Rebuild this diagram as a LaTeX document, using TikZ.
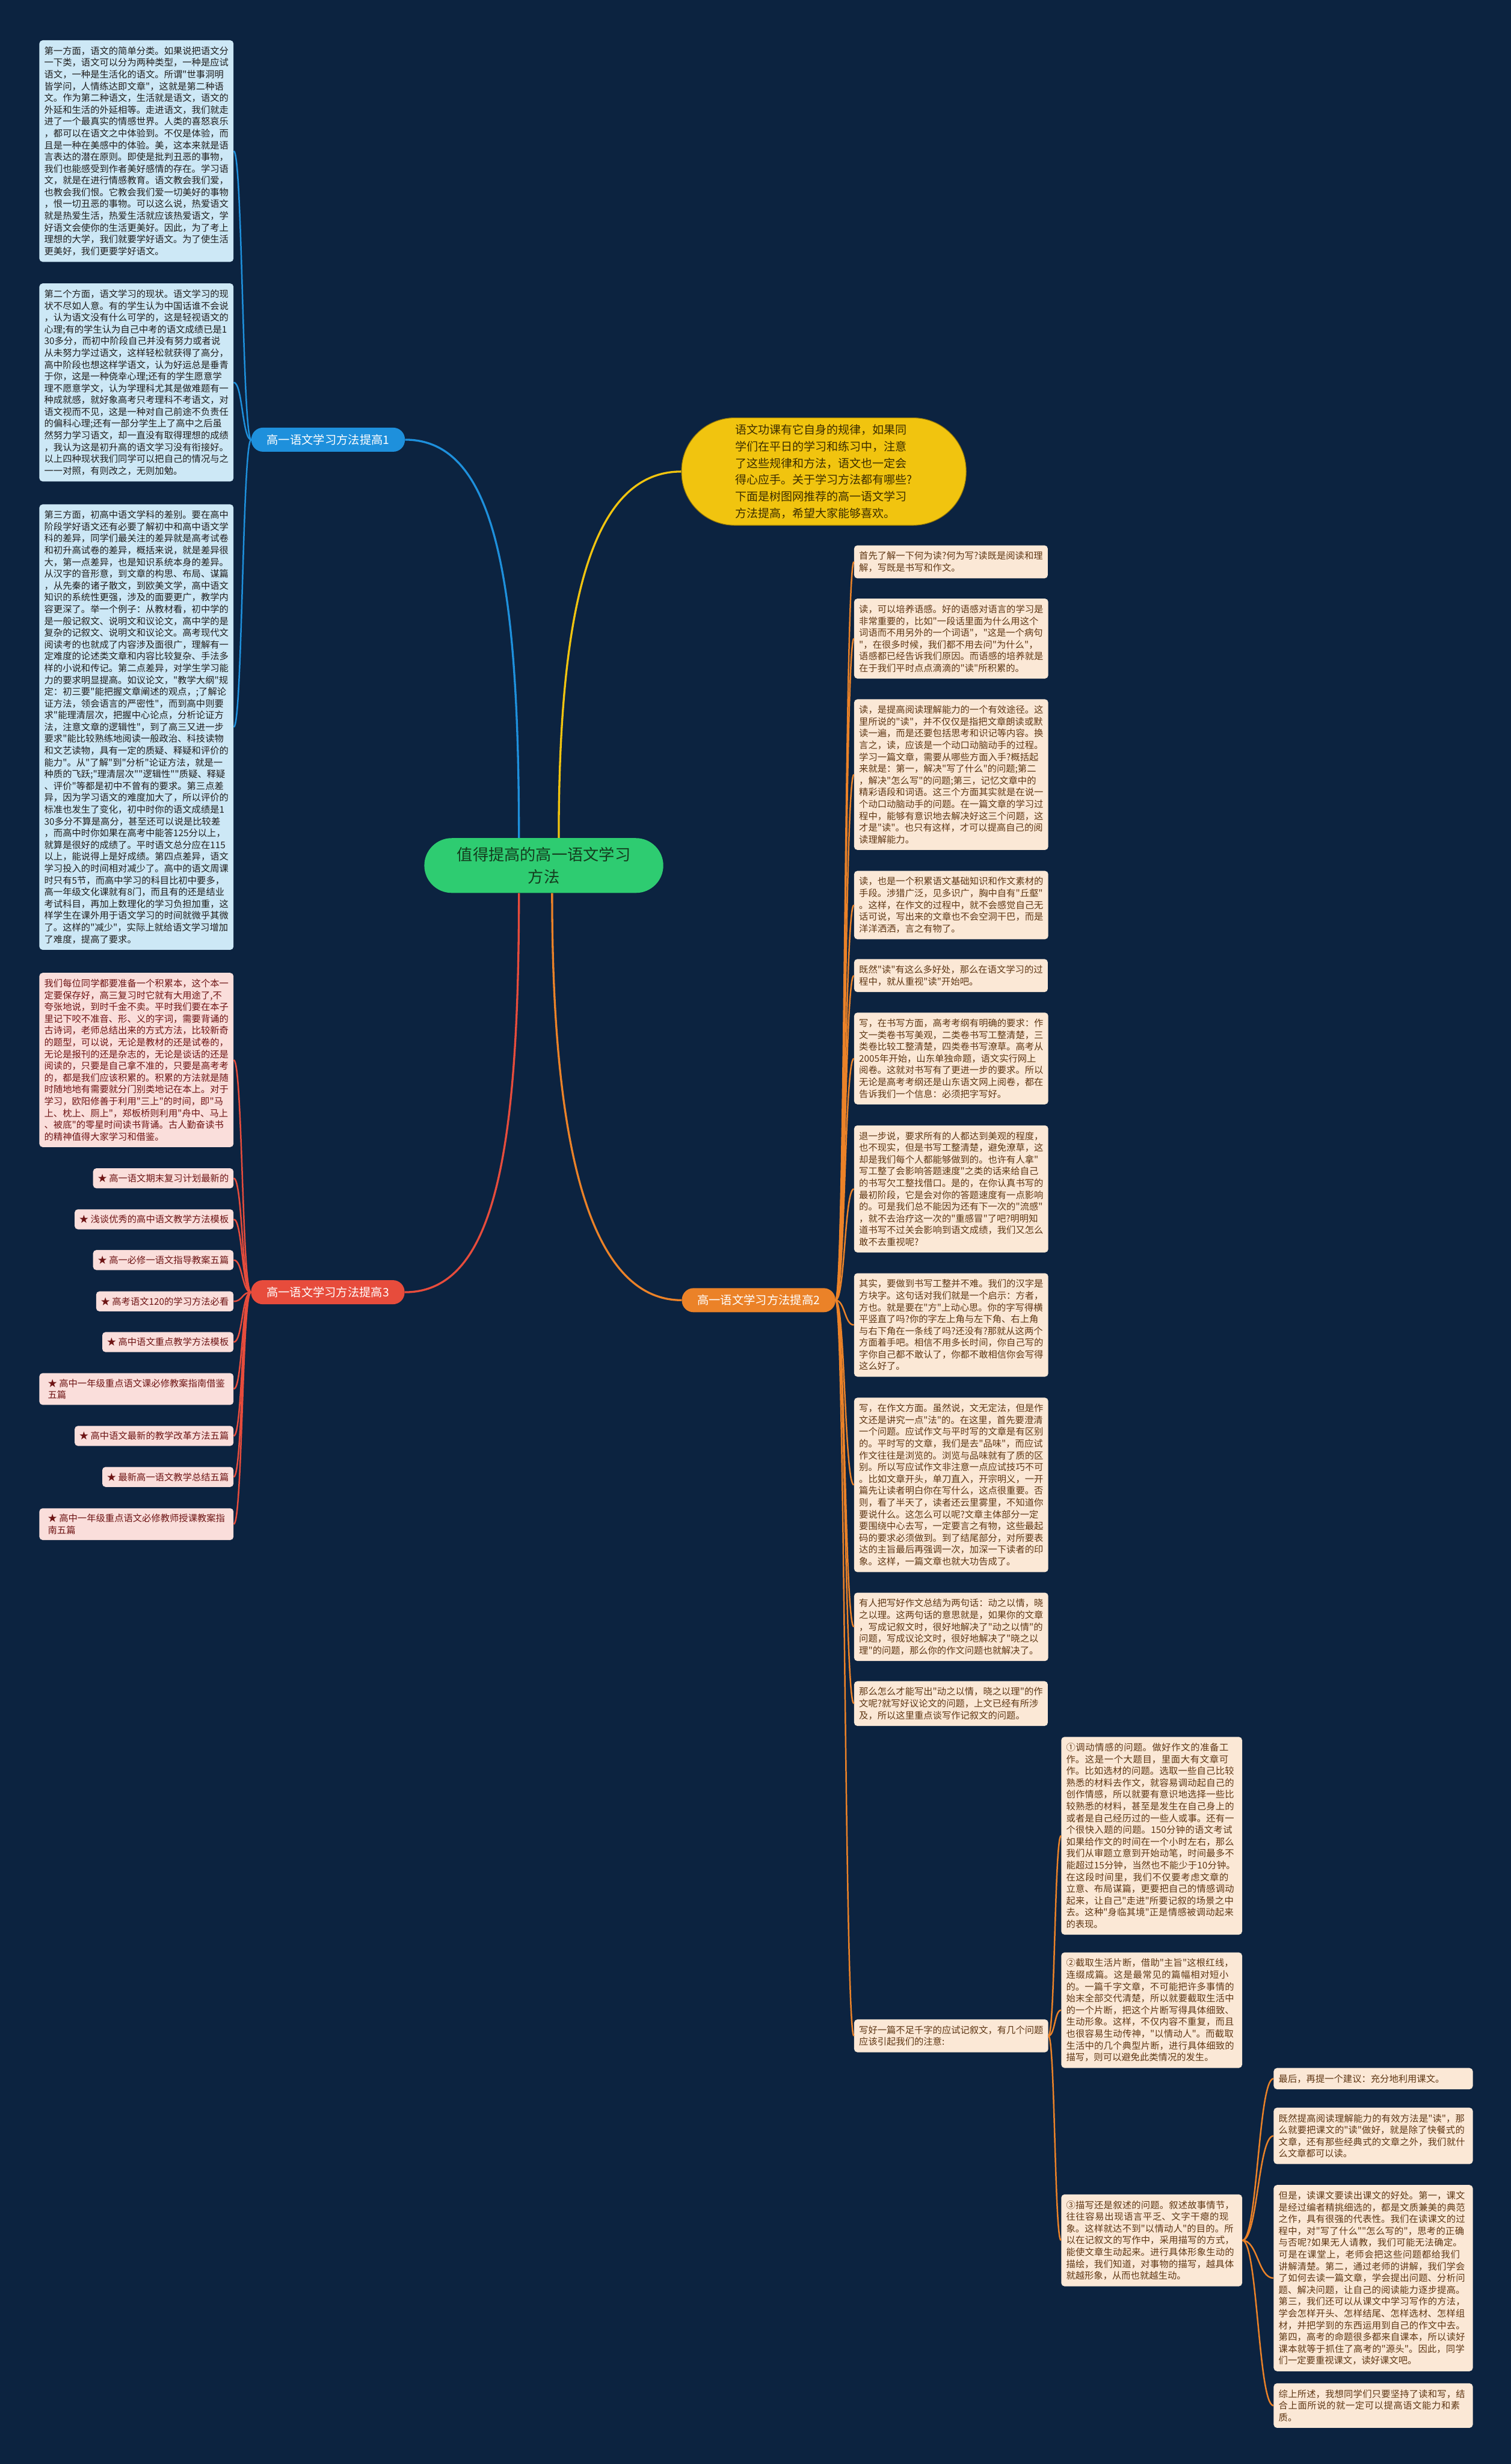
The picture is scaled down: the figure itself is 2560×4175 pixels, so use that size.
\documentclass[tikz,border=0pt]{standalone}
\usepackage{fontspec}
\setmainfont{Noto Sans CJK SC}[Ligatures=TeXOff]
\XeTeXlinebreaklocale "zh"
\XeTeXlinebreakskip=0pt plus 1pt
\usetikzlibrary{positioning}
\definecolor{bgc}{RGB}{12,35,64}
\definecolor{hubc}{RGB}{46,204,113}
\definecolor{hubtext}{RGB}{20,60,30}
\definecolor{yel}{RGB}{241,196,15}
\definecolor{yeltext}{RGB}{60,45,0}
\definecolor{cblue}{RGB}{30,144,220}
\definecolor{cred}{RGB}{231,76,60}
\definecolor{corange}{RGB}{235,130,40}
\definecolor{lfill}{RGB}{205,232,246}
\definecolor{ltext}{RGB}{30,30,30}
\definecolor{pfill}{RGB}{250,222,219}
\definecolor{ptext}{RGB}{110,20,20}
\definecolor{tfill}{RGB}{251,232,214}
\definecolor{ttext}{RGB}{95,55,20}

\begin{document}
\begin{tikzpicture}[x=0.025cm,y=-0.025cm]
\tikzstyle{leaf}=[rounded corners=4pt,align=left,inner xsep=6pt,inner ysep=7.5pt,font=\fontsize{11.1pt}{14.2pt}\selectfont]
\tikzstyle{bluebox}=[leaf,fill=lfill,text=ltext,minimum width=234pt,anchor=east]
\tikzstyle{pinkbox}=[leaf,fill=pfill,text=ptext,minimum width=234pt,anchor=east]
\tikzstyle{item}=[leaf,fill=pfill,text=ptext,anchor=east,inner ysep=6.9pt,inner xsep=5.7pt]
\tikzstyle{tanbox}=[leaf,fill=tfill,text=ttext,minimum width=233pt,anchor=west]
\tikzstyle{subbox}=[leaf,fill=tfill,text=ttext,anchor=west,text width=206pt]
\tikzstyle{farbox}=[leaf,fill=tfill,text=ttext,anchor=west,text width=228pt]
\tikzstyle{pill}=[rounded corners=14pt,text=white,font=\fontsize{14pt}{16pt}\selectfont,minimum height=29pt,minimum width=185pt,inner xsep=0pt]
\tikzstyle{link}=[line width=1.8pt]
\tikzstyle{trunk}=[line width=2.4pt]
\fill[bgc] (0,0) rectangle (2560,4175);
\useasboundingbox (0,0) rectangle (2560,4175);

    \node[fill=hubc,text=hubtext,rounded corners=33pt,minimum width=288pt,minimum height=66pt,align=center,font=\fontsize{19pt}{26.5pt}\selectfont] (hub) at (921.5,1466.5) {值得提高的高一语文学习\\方法};
    \node[fill=yel,text=yeltext,draw=yel!60!black,line width=0.8pt,rounded corners=64pt,minimum width=343pt,minimum height=129.5pt,align=left,font=\fontsize{13.8pt}{20.1pt}\selectfont] (intro) at (1396,799) {语文功课有它自身的规律，如果同\\学们在平日的学习和练习中，注意\\了这些规律和方法，语文也一定会\\得心应手。关于学习方法都有哪些?\\下面是树图网推荐的高一语文学习\\方法提高，希望大家能够喜欢。};
    \node[pill,fill=cblue] (b1) at (556,745) {高一语文学习方法提高1};
    \node[pill,fill=corange] (b2) at (1285.5,2203) {高一语文学习方法提高2};
    \node[pill,fill=cred] (b3) at (555.5,2189.5) {高一语文学习方法提高3};

    \node[bluebox] (l1) at (396,256) {第一方面，语文的简单分类。如果说把语文分\\一下类，语文可以分为两种类型，一种是应试\\语文，一种是生活化的语文。所谓"世事洞明\\皆学问，人情练达即文章"，这就是第二种语\\文。作为第二种语文，生活就是语文，语文的\\外延和生活的外延相等。走进语文，我们就走\\进了一个最真实的情感世界。人类的喜怒哀乐\\，都可以在语文之中体验到。不仅是体验，而\\且是一种在美感中的体验。美，这本来就是语\\言表达的潜在原则。即使是批判丑恶的事物，\\我们也能感受到作者美好感情的存在。学习语\\文，就是在进行情感教育。语文教会我们爱，\\也教会我们恨。它教会我们爱一切美好的事物\\，恨一切丑恶的事物。可以这么说，热爱语文\\就是热爱生活，热爱生活就应该热爱语文，学\\好语文会使你的生活更美好。因此，为了考上\\理想的大学，我们就要学好语文。为了使生活\\更美好，我们更要学好语文。};
    \node[bluebox] (l2) at (396,648) {第二个方面，语文学习的现状。语文学习的现\\状不尽如人意。有的学生认为中国话谁不会说\\，认为语文没有什么可学的，这是轻视语文的\\心理;有的学生认为自己中考的语文成绩已是1\\30多分，而初中阶段自己并没有努力或者说\\从未努力学过语文，这样轻松就获得了高分，\\高中阶段也想这样学语文，认为好运总是垂青\\于你，这是一种侥幸心理;还有的学生愿意学\\理不愿意学文，认为学理科尤其是做难题有一\\种成就感，就好象高考只考理科不考语文，对\\语文视而不见，这是一种对自己前途不负责任\\的偏科心理;还有一部分学生上了高中之后虽\\然努力学习语文，却一直没有取得理想的成绩\\，我认为这是初升高的语文学习没有衔接好。\\以上四种现状我们同学可以把自己的情况与之\\一一对照，有则改之，无则加勉。};
    \node[bluebox] (l3) at (396,1232) {第三方面，初高中语文学科的差别。要在高中\\阶段学好语文还有必要了解初中和高中语文学\\科的差异，同学们最关注的差异就是高考试卷\\和初升高试卷的差异，概括来说，就是差异很\\大，第一点差异，也是知识系统本身的差异。\\从汉字的音形意，到文章的构思、布局、谋篇\\，从先秦的诸子散文，到欧美文学，高中语文\\知识的系统性更强，涉及的面要更广，教学内\\容更深了。举一个例子：从教材看，初中学的\\是一般记叙文、说明文和议论文，高中学的是\\复杂的记叙文、说明文和议论文。高考现代文\\阅读考的也就成了内容涉及面很广，理解有一\\定难度的论述类文章和内容比较复杂、手法多\\样的小说和传记。第二点差异，对学生学习能\\力的要求明显提高。如议论文，"教学大纲"规\\定：初三要"能把握文章阐述的观点，;了解论\\证方法，领会语言的严密性"，而到高中则要\\求"能理清层次，把握中心论点，分析论证方\\法，注意文章的逻辑性"，到了高三又进一步\\要求"能比较熟练地阅读一般政治、科技读物\\和文艺读物，具有一定的质疑、释疑和评价的\\能力"。从"了解"到"分析"论证方法，就是一\\种质的飞跃;"理清层次""逻辑性""质疑、释疑\\、评价"等都是初中不曾有的要求。第三点差\\异，因为学习语文的难度加大了，所以评价的\\标准也发生了变化，初中时你的语文成绩是1\\30多分不算是高分，甚至还可以说是比较差\\，而高中时你如果在高考中能答125分以上，\\就算是很好的成绩了。平时语文总分应在115\\以上，能说得上是好成绩。第四点差异，语文\\学习投入的时间相对减少了。高中的语文周课\\时只有5节，而高中学习的科目比初中要多，\\高一年级文化课就有8门，而且有的还是结业\\考试科目，再加上数理化的学习负担加重，这\\样学生在课外用于语文学习的时间就微乎其微\\了。这样的"减少"，实际上就给语文学习增加\\了难度，提高了要求。};
    \node[pinkbox] (l4) at (396,1796) {我们每位同学都要准备一个积累本，这个本一\\定要保存好，高三复习时它就有大用途了,不\\夸张地说，到时千金不卖。平时我们要在本子\\里记下咬不准音、形、义的字词，需要背诵的\\古诗词，老师总结出来的方式方法，比较新奇\\的题型，可以说，无论是教材的还是试卷的，\\无论是报刊的还是杂志的，无论是谈话的还是\\阅读的，只要是自己拿不准的，只要是高考考\\的，都是我们应该积累的。积累的方法就是随\\时随地地有需要就分门别类地记在本上。对于\\学习，欧阳修善于利用"三上"的时间，即"马\\上、枕上、厕上"，郑板桥则利用"舟中、马上\\、被底"的零星时间读书背诵。古人勤奋读书\\的精神值得大家学习和借鉴。};
    \node[item] (it1) at (396,1996.5) {★ 高一语文期末复习计划最新的};
    \node[item] (it2) at (396,2066) {★ 浅谈优秀的高中语文教学方法模板};
    \node[item] (it3) at (396,2135) {★ 高一必修一语文指导教案五篇};
    \node[item] (it4) at (396,2205) {★ 高考语文120的学习方法必看};
    \node[item] (it5) at (396,2274) {★ 高中语文重点教学方法模板};
    \node[item,minimum width=234pt] (it6) at (396,2353.5) {★ 高中一年级重点语文课必修教案指南借鉴\\五篇};
    \node[item] (it7) at (396,2433) {★ 高中语文最新的教学改革方法五篇};
    \node[item] (it8) at (396,2502.5) {★ 最新高一语文教学总结五篇};
    \node[item,minimum width=234pt] (it9) at (396,2582.5) {★ 高中一年级重点语文必修教师授课教案指\\南五篇};

    \node[tanbox] (r1) at (1447,952) {首先了解一下何为读?何为写?读既是阅读和理\\解，写既是书写和作文。};
    \node[tanbox] (r2) at (1447,1082) {读，可以培养语感。好的语感对语言的学习是\\非常重要的，比如"一段话里面为什么用这个\\词语而不用另外的一个词语"，"这是一个病句\\"，在很多时候，我们都不用去问"为什么"，\\语感都已经告诉我们原因。而语感的培养就是\\在于我们平时点点滴滴的"读"所积累的。};
    \node[tanbox] (r3) at (1447,1312.5) {读，是提高阅读理解能力的一个有效途径。这\\里所说的"读"，并不仅仅是指把文章朗读或默\\读一遍，而是还要包括思考和识记等内容。换\\言之，读，应该是一个动口动脑动手的过程。\\学习一篇文章，需要从哪些方面入手?概括起\\来就是：第一，解决"写了什么"的问题;第二\\，解决"怎么写"的问题;第三，记忆文章中的\\精彩语段和词语。这三个方面其实就是在说一\\个动口动脑动手的问题。在一篇文章的学习过\\程中，能够有意识地去解决好这三个问题，这\\才是"读"。也只有这样，才可以提高自己的阅\\读理解能力。};
    \node[tanbox] (r4) at (1447,1533.5) {读，也是一个积累语文基础知识和作文素材的\\手段。涉猎广泛，见多识广，胸中自有"丘壑"\\。这样，在作文的过程中，就不会感觉自己无\\话可说，写出来的文章也不会空洞干巴，而是\\洋洋洒洒，言之有物了。};
    \node[tanbox] (r5) at (1447,1653) {既然"读"有这么多好处，那么在语文学习的过\\程中，就从重视"读"开始吧。};
    \node[tanbox] (r6) at (1447,1793.5) {写，在书写方面，高考考纲有明确的要求：作\\文一类卷书写美观，二类卷书写工整清楚，三\\类卷比较工整清楚，四类卷书写潦草。高考从\\2005年开始，山东单独命题，语文实行网上\\阅卷。这就对书写有了更进一步的要求。所以\\无论是高考考纲还是山东语文网上阅卷，都在\\告诉我们一个信息：必须把字写好。};
    \node[tanbox] (r7) at (1447,2014.5) {退一步说，要求所有的人都达到美观的程度，\\也不现实，但是书写工整清楚，避免潦草，这\\却是我们每个人都能够做到的。也许有人拿"\\写工整了会影响答题速度"之类的话来给自己\\的书写欠工整找借口。是的，在你认真书写的\\最初阶段，它是会对你的答题速度有一点影响\\的。可是我们总不能因为还有下一次的"流感"\\，就不去治疗这一次的"重感冒"了吧?明明知\\道书写不过关会影响到语文成绩，我们又怎么\\敢不去重视呢?};
    \node[tanbox] (r8) at (1447,2245) {其实，要做到书写工整并不难。我们的汉字是\\方块字。这句话对我们就是一个启示：方者，\\方也。就是要在"方"上动心思。你的字写得横\\平竖直了吗?你的字左上角与左下角、右上角\\与右下角在一条线了吗?还没有?那就从这两个\\方面着手吧。相信不用多长时间，你自己写的\\字你自己都不敢认了，你都不敢相信你会写得\\这么好了。};
    \node[tanbox] (r9) at (1447,2516) {写，在作文方面。虽然说，文无定法，但是作\\文还是讲究一点"法"的。在这里，首先要澄清\\一个问题。应试作文与平时写的文章是有区别\\的。平时写的文章，我们是去"品味"，而应试\\作文往往是浏览的。浏览与品味就有了质的区\\别。所以写应试作文非注意一点应试技巧不可\\。比如文章开头，单刀直入，开宗明义，一开\\篇先让读者明白你在写什么，这点很重要。否\\则，看了半天了，读者还云里雾里，不知道你\\要说什么。这怎么可以呢?文章主体部分一定\\要围绕中心去写，一定要言之有物，这些最起\\码的要求必须做到。到了结尾部分，对所要表\\达的主旨最后再强调一次，加深一下读者的印\\象。这样，一篇文章也就大功告成了。};
    \node[tanbox] (r10) at (1447,2756.5) {有人把写好作文总结为两句话：动之以情，晓\\之以理。这两句话的意思就是，如果你的文章\\，写成记叙文时，很好地解决了"动之以情"的\\问题，写成议论文时，很好地解决了"晓之以\\理"的问题，那么你的作文问题也就解决了。};
    \node[tanbox] (r11) at (1447,2886.5) {那么怎么才能写出"动之以情，晓之以理"的作\\文呢?就写好议论文的问题，上文已经有所涉\\及，所以这里重点谈写作记叙文的问题。};
    \node[tanbox] (r12) at (1447,3449.5) {写好一篇不足千字的应试记叙文，有几个问题\\应该引起我们的注意:};

    \node[subbox] (s1) at (1798,3110.5) {①调动情感的问题。做好作文的准备工作。这是一个大题目，里面大有文章可作。比如选材的问题。选取一些自己比较熟悉的材料去作文，就容易调动起自己的创作情感，所以就要有意识地选择一些比较熟悉的材料，甚至是发生在自己身上的或者是自己经历过的一些人或事。还有一个很快入题的问题。150分钟的语文考试如果给作文的时间在一个小时左右，那么我们从审题立意到开始动笔，时间最多不能超过15分钟，当然也不能少于10分钟。在这段时间里，我们不仅要考虑文章的立意、布局谋篇，更要把自己的情感调动起来，让自己"走进"所要记叙的场景之中去。这种"身临其境"正是情感被调动起来的表现。};
    \node[subbox] (s2) at (1798,3406) {②截取生活片断，借助"主旨"这根红线，连缀成篇。这是最常见的篇幅相对短小的。一篇千字文章，不可能把许多事情的始末全部交代清楚，所以就要截取生活中的一个片断，把这个片断写得具体细致、生动形象。这样，不仅内容不重复，而且也很容易生动传神，"以情动人"。而截取生活中的几个典型片断，进行具体细致的描写，则可以避免此类情况的发生。};
    \node[subbox] (s3) at (1798,3796) {③描写还是叙述的问题。叙述故事情节，往往容易出现语言平乏、文字干瘪的现象。这样就达不到"以情动人"的目的。所以在记叙文的写作中，采用描写的方式，能使文章生动起来。进行具体形象生动的描绘，我们知道，对事物的描写，越具体就越形象，从而也就越生动。};

    \node[farbox] (f1) at (2158,3522) {最后，再提一个建议：充分地利用课文。};
    \node[farbox] (f2) at (2158,3619) {既然提高阅读理解能力的有效方法是"读"，那么就要把课文的"读"做好，就是除了快餐式的文章，还有那些经典式的文章之外，我们就什么文章都可以读。};
    \node[farbox] (f3) at (2158,3860) {但是，读课文要读出课文的好处。第一，课文是经过编者精挑细选的，都是文质兼美的典范之作，具有很强的代表性。我们在读课文的过程中，对"写了什么""怎么写的"，思考的正确与否呢?如果无人请教，我们可能无法确定。可是在课堂上，老师会把这些问题都给我们讲解清楚。第二，通过老师的讲解，我们学会了如何去读一篇文章，学会提出问题、分析问题、解决问题，让自己的阅读能力逐步提高。第三，我们还可以从课文中学习写作的方法，学会怎样开头、怎样结尾、怎样选材、怎样组材，并把学到的东西运用到自己的作文中去。第四，高考的命题很多都来自课本，所以读好课本就等于抓住了高考的"源头"。因此，同学们一定要重视课文，读好课文吧。};
    \node[farbox] (f4) at (2158,4076) {综上所述，我想同学们只要坚持了读和写，结合上面所说的就一定可以提高语文能力和素质。};

    \draw[trunk,cblue] ([xshift=-30pt]hub.north) .. controls +(0,-450) and +(150,0) .. (b1.east);
    \draw[trunk,yel] ([xshift=18pt]hub.north) .. controls +(0,-400) and +(-150,0) .. (intro.west);
    \draw[trunk,cred] ([xshift=-30pt]hub.south) .. controls +(0,450) and +(150,0) .. (b3.east);
    \draw[trunk,corange] ([xshift=10pt]hub.south) .. controls +(0,450) and +(-150,0) .. (b2.west);
    \foreach \n in {l1,l2,l3}
      \draw[link,cblue] (b1.west) .. controls +(-15,0) and +(15,0) .. (\n.east);
    \foreach \n in {l4,it1,it2,it3,it4,it5,it6,it7,it8,it9}
      \draw[link,cred] (b3.west) .. controls +(-15,0) and +(15,0) .. (\n.east);
    \foreach \n in {r1,r2,r3,r4,r5,r6,r7,r8,r9,r10,r11,r12}
      \draw[link,corange] (b2.east) .. controls +(16,0) and +(-16,0) .. (\n.west);
    \foreach \n in {s1,s2,s3}
      \draw[link,corange] (r12.east) .. controls +(11,0) and +(-11,0) .. (\n.west);
    \foreach \n in {f1,f2,f3,f4}
      \draw[link,corange] (s3.east) .. controls +(26,0) and +(-26,0) .. (\n.west);
  \end{tikzpicture}
\end{document}
